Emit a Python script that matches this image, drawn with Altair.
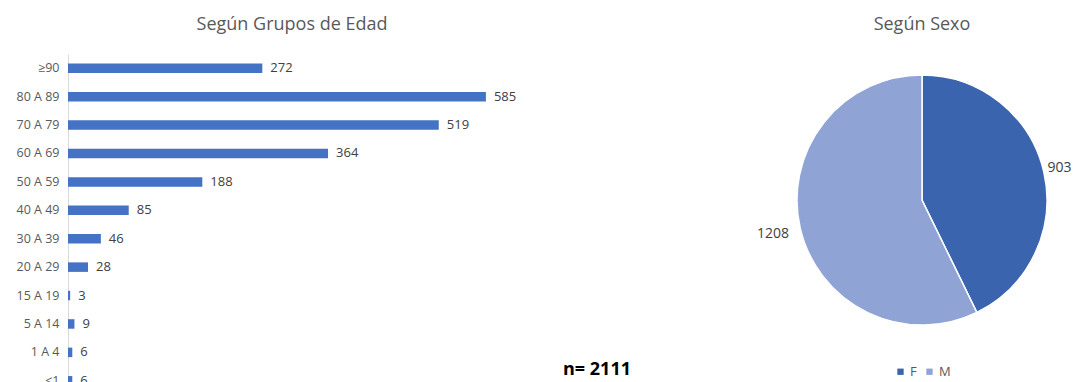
import altair as alt
import pandas as pd

age_groups = ["≥90", "80 A 89", "70 A 79", "60 A 69", "50 A 59", "40 A 49",
              "30 A 39", "20 A 29", "15 A 19", "5 A 14", "1 A 4", "<1"]
age_counts = [272, 585, 519, 364, 188, 85, 46, 28, 3, 9, 6, 6]

sex_labels = ["F", "M"]
sex_counts = [903, 1208]
sex_colors = ["#3A64AE", "#8FA3D5"]

total_label = "n= 2111"
title_age = "Según Grupos de Edad"
title_sex = "Según Sexo"

FONT = "Open Sans"

age_df = pd.DataFrame({"grupo": age_groups, "n": age_counts})
sex_df = pd.DataFrame({"sexo": sex_labels, "n": sex_counts, "orden": [0, 1]})

xscale = alt.Scale(domain=[0, 1404], nice=False, zero=True)
yscale = alt.Scale(domain=age_groups, paddingInner=0, paddingOuter=0)

base_bar = alt.Chart(age_df)

bars = base_bar.mark_bar(color="#4472C4", size=9.5).encode(
    x=alt.X("n:Q", scale=xscale, axis=None),
    y=alt.Y("grupo:N", scale=yscale, sort=age_groups,
            axis=alt.Axis(title=None, ticks=False, labelPadding=9,
                          labelFontSize=12.5, labelColor="#595959", labelFont=FONT,
                          domainColor="#d9d9d9", domainWidth=1, grid=False)),
)

bar_labels = base_bar.mark_text(align="left", baseline="middle", dx=8,
                                fontSize=13, color="#404040", font=FONT).encode(
    x=alt.X("n:Q", scale=xscale),
    y=alt.Y("grupo:N", scale=yscale, sort=age_groups),
    text=alt.Text("n:Q"),
)

title1 = alt.Chart(pd.DataFrame({"t": [title_age]})).mark_text(
    align="center", baseline="middle", fontSize=18, color="#595959", font=FONT).encode(
    x=alt.value(224), y=alt.value(-29), text="t:N")

title2 = alt.Chart(pd.DataFrame({"t": [title_sex]})).mark_text(
    align="center", baseline="middle", fontSize=18, color="#595959", font=FONT).encode(
    x=alt.value(854), y=alt.value(-29), text="t:N")

ntext = alt.Chart(pd.DataFrame({"t": [total_label]})).mark_text(
    align="center", baseline="middle", fontSize=18, fontWeight="bold",
    color="#000000", font=FONT).encode(
    x=alt.value(529), y=alt.value(316), text="t:N")

pie = alt.Chart(sex_df).mark_arc(outerRadius=125, stroke="white", strokeWidth=1.5).encode(
    theta=alt.Theta("n:Q", stack=True),
    color=alt.Color("sexo:N", scale=alt.Scale(domain=sex_labels, range=sex_colors),
                    legend=alt.Legend(title=None, orient="none", legendX=826, legendY=311,
                                      direction="horizontal", symbolType="square",
                                      symbolSize=40, labelFontSize=13, labelColor="#595959",
                                      labelFont=FONT, columnPadding=6, labelOffset=3,
                                      symbolStrokeWidth=0)),
    order=alt.Order("orden:Q"),
    x=alt.value(854), y=alt.value(146),
)


def pie_label(radius, sexo):
    return alt.Chart(sex_df).mark_text(radius=radius, fontSize=14, color="#404040",
                                       font=FONT).encode(
        theta=alt.Theta("n:Q", stack=True),
        order=alt.Order("orden:Q"),
        text=alt.condition(alt.datum.sexo == sexo, alt.Text("n:Q"), alt.value("")),
        x=alt.value(854), y=alt.value(146),
    )


chart = alt.layer(bars, bar_labels, title1, title2, ntext, pie,
                  pie_label(141, "F"), pie_label(153, "M")).properties(
    width=1003, height=341,
    autosize=alt.AutoSizeParams(type="none"),
    padding={"left": 60, "top": 46, "right": 0, "bottom": 0},
).configure(background="white").configure_view(stroke=None)

chart.save("out.html", embed_options={"renderer": "svg", "actions": False})
